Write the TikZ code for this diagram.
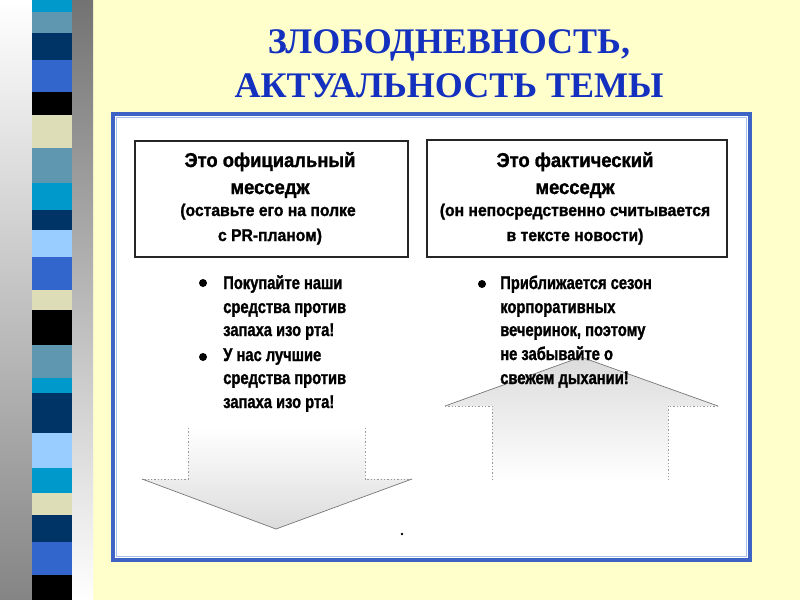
\documentclass[tikz,border=0pt]{standalone}
\usepackage{fontspec}
\setmainfont{Liberation Serif}
\newfontfamily\condhead{Liberation Sans}[FakeStretch=0.92,FakeBold=1.3,UprightFont={* Bold}]
\newfontfamily\condbf{Liberation Sans}[FakeStretch=0.8,FakeBold=1.3,UprightFont={* Bold}]
\definecolor{cream}{HTML}{FFFFCC}
\definecolor{titleblue}{HTML}{1430BE}
\definecolor{framedark}{HTML}{3D63C4}
\definecolor{framelight}{HTML}{A8C0EC}
\definecolor{scyan}{HTML}{0099CC}
\definecolor{ssteel}{HTML}{5F97B0}
\definecolor{snavy}{HTML}{003366}
\definecolor{sroyal}{HTML}{3366CC}
\definecolor{sblack}{HTML}{000000}
\definecolor{scream}{HTML}{DDDDB8}
\definecolor{slight}{HTML}{99CCFF}
\tikzset{
  msgbox/.style={draw=black!85, line width=0.9pt, fill=white, inner sep=0pt},
  boxhead/.style={font=\condhead\fontsize{15}{17}\selectfont, anchor=base, inner sep=0pt},
  boxsub/.style={font=\condhead\fontsize{12.8}{15}\selectfont, anchor=base, inner sep=0pt},
  bultext/.style={font=\condbf\fontsize{13.8}{16}\selectfont, anchor=base west, inner sep=0pt},
  buldot/.style={circle, fill=black, inner sep=0pt, minimum size=6pt},
  titletext/.style={font=\bfseries\fontsize{27}{30}\selectfont, text=titleblue, anchor=base, inner sep=0pt},
  arrowedge/.style={draw=black!55, line width=0.5pt},
  arrowshaft/.style={draw=black!40, line width=0.5pt, dash pattern=on 1pt off 1.5pt}
}
\begin{document}
\begin{tikzpicture}[x=0.75pt,y=-0.75pt]
\useasboundingbox (0,0) rectangle (800,600);
\fill[cream] (0,0) rectangle (800,600);
% left decorative band
\shade[top color=white, bottom color=black!48] (0,0) rectangle (34,600);
\shade[top color=black!55, bottom color=white] (70,0) rectangle (93,600);
\foreach \ya/\yb/\c in {0/12/scyan, 12/33/ssteel, 33/60/snavy, 60/92/sroyal, 92/115/sblack,
  115/148/scream, 148/183/ssteel, 183/210/scyan, 210/230/snavy, 230/257/slight, 257/290/sroyal,
  290/310/scream, 310/345/sblack, 345/378/ssteel, 378/393/scyan, 393/433/snavy, 433/468/slight,
  468/493/scyan, 493/515/scream, 515/542/snavy, 542/575/sroyal, 575/600/sblack}
  \fill[\c] (32,\ya) rectangle (72,\yb);
% title
\node[titletext] (title1) at (449,53) {ЗЛОБОДНЕВНОСТЬ,};
\node[titletext] (title2) at (449,97) {АКТУАЛЬНОСТЬ ТЕМЫ};
% frame
\filldraw[fill=white, draw=framedark, line width=2.6pt] (113,114) rectangle (750,560);
\draw[framelight, line width=0.8pt] (116.5,117.5) rectangle (746.5,556.5);
% arrows
\shade[top color=white, middle color=white, bottom color=black!14]
  (188,428) -- (188,479) -- (142,479) -- (276,529) -- (412,479) -- (365,479) -- (365,428) -- cycle;
\draw[arrowedge] (142,479) -- (276,529) -- (412,479);
\draw[arrowshaft] (188,428) -- (188,479) -- (142,479);
\draw[arrowshaft] (365,428) -- (365,479) -- (412,479);
\shade[top color=black!14, middle color=white, bottom color=white]
  (492,482) -- (492,406) -- (445,406) -- (581,357) -- (718,406) -- (668,406) -- (668,480) -- cycle;
\draw[arrowedge] (445,406) -- (581,357) -- (718,406);
\draw[arrowshaft] (445,406) -- (492,406) -- (492,482);
\draw[arrowshaft] (718,406) -- (668,406) -- (668,480);
\fill[black] (402,534) circle (1.4);
% boxes
\node[msgbox, minimum width=204.75pt, minimum height=87pt] (offbox) at (271.5,199) {};
\node[msgbox, minimum width=225pt, minimum height=87.75pt] (factbox) at (577,198.5) {};
\node[boxhead] (offh1) at (270,167) {Это официальный};
\node[boxhead] (offh2) at (270,194) {месседж};
\node[boxsub] (offs1) at (268,216) {(оставьте его на полке};
\node[boxsub] (offs2) at (270,241) {с PR-планом)};
\node[boxhead] (facth1) at (575,167) {Это фактический};
\node[boxhead] (facth2) at (575,194) {месседж};
\node[boxsub] (facts1) at (575,216) {(он непосредственно считывается};
\node[boxsub] (facts2) at (575,241) {в тексте новости)};
% left bullets
\node[buldot] (ldot1) at (203,283) {};
\node[bultext] (l1) at (223,289) {Покупайте наши};
\node[bultext] (l2) at (223,313) {средства против};
\node[bultext] (l3) at (223,336) {запаха изо рта!};
\node[buldot] (ldot2) at (203,357) {};
\node[bultext] (l4) at (223,361) {У нас лучшие};
\node[bultext] (l5) at (223,384) {средства против};
\node[bultext] (l6) at (223,408) {запаха изо рта!};
% right bullet
\node[buldot] (rdot1) at (482,284) {};
\node[bultext] (r1) at (500,289) {Приближается сезон};
\node[bultext] (r2) at (500,313) {корпоративных};
\node[bultext] (r3) at (500,336) {вечеринок, поэтому};
\node[bultext] (r4) at (500,360) {не забывайте о};
\node[bultext] (r5) at (500,384) {свежем дыхании!};
\end{tikzpicture}
\end{document}
